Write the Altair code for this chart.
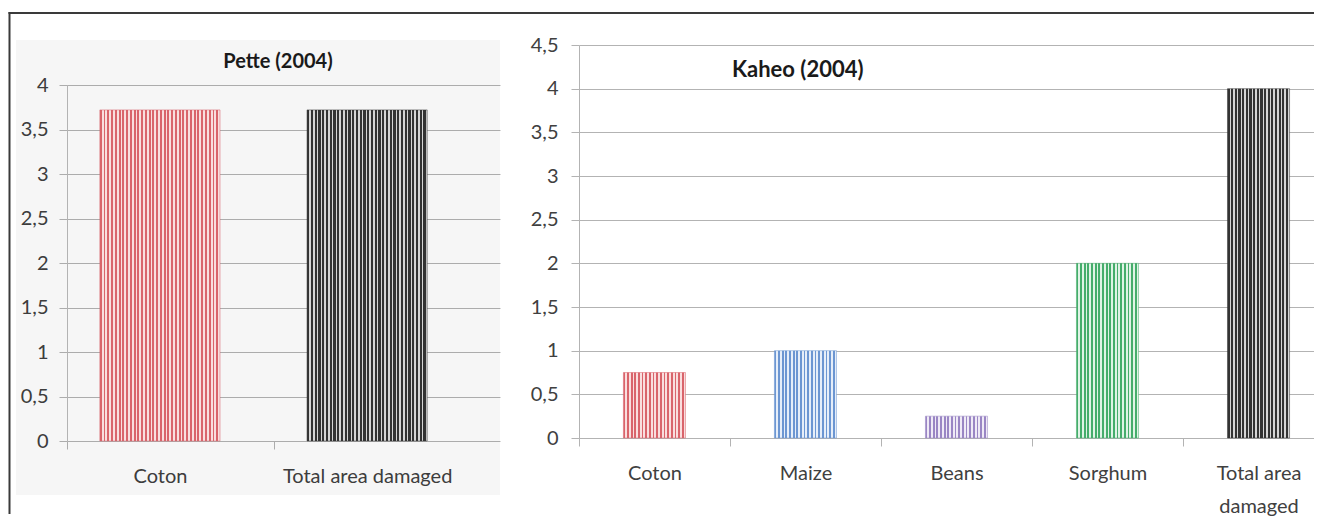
import altair as alt
import pandas as pd

# ---------------- data ----------------
pette_categories = ["Coton", "Total area damaged"]
pette_values = [3.72, 3.72]
pette_ticks = [0, 0.5, 1, 1.5, 2, 2.5, 3, 3.5, 4]

kaheo_categories = ["Coton", "Maize", "Beans", "Sorghum", "Total area damaged"]
kaheo_values = [0.75, 1.0, 0.25, 2.0, 4.0]
kaheo_ticks = [0, 0.5, 1, 1.5, 2, 2.5, 3, 3.5, 4, 4.5]

# ---------------- style ----------------
FONT = "Lato"
GRID = "#b3b3b3"
LABEL = "#404040"
BORDER = "#3a3a3a"
bar_colors = {
    "Coton": ("#d9646b", "#f9dede"),
    "Maize": ("#6c96d2", "#e6eef9"),
    "Beans": ("#9a86c4", "#efeaf6"),
    "Sorghum": ("#45ad6b", "#e0f3e6"),
    "Total area damaged": ("#333333", "#d6d6d6"),
}


def stripes(dark, light, n, frac=0.5):
    stops = []
    for i in range(n):
        a = i / n
        b = (i + frac) / n
        c = (i + 1) / n
        stops += [
            alt.GradientStop(offset=a, color=dark),
            alt.GradientStop(offset=b, color=dark),
            alt.GradientStop(offset=b, color=light),
            alt.GradientStop(offset=c, color=light),
        ]
    return alt.LinearGradient(gradient="linear", stops=stops, x1=0, x2=1, y1=0, y2=0)


one = pd.DataFrame({"k": [0]})


def frame_rect(x0, x1, y0, y1):
    return alt.Chart(one).mark_rect(fill=BORDER).encode(
        x=alt.value(x0), x2=alt.value(x1), y=alt.value(y0), y2=alt.value(y1))


def panel(cats, vals, ticks, y_top, width, height, pad_inner, pad_outer, band_align,
          tick_off, y_label_pad, n_stripes, title, title_x, title_y, title_align,
          title_size, label_expr, frames, bg=None, own_domain=False):
    df = pd.DataFrame({"category": cats, "value": vals})
    x = alt.X(
        "category:N", sort=cats,
        scale=alt.Scale(paddingInner=pad_inner, paddingOuter=pad_outer, align=band_align),
        axis=alt.Axis(title=None, domain=False, grid=False, ticks=True, tickSize=8,
                      tickColor=GRID, tickOffset=tick_off, labelOffset=-tick_off,
                      labelAngle=0, labelFont=FONT, labelFontSize=20, labelColor=LABEL,
                      labelPadding=17, labelLineHeight=33, labelExpr=label_expr),
    )
    y = alt.Y(
        "value:Q",
        scale=alt.Scale(domain=[0, y_top], nice=False),
        axis=alt.Axis(title=None, values=ticks,
                      labelExpr="replace(format(datum.value, '~g'), '.', ',')",
                      grid=True, gridColor=GRID, domain=not own_domain, domainColor=GRID,
                      ticks=True, tickColor=GRID, tickSize=8, labelPadding=y_label_pad,
                      labelFont=FONT, labelFontSize=20, labelColor=LABEL),
    )
    layers = []
    if bg is not None:
        layers.append(
            alt.Chart(one).mark_rect(fill="#000000", opacity=0.035).encode(
                x=alt.value(bg[0]), x2=alt.value(bg[1]), y=alt.value(bg[2]), y2=alt.value(bg[3]))
        )
    for c in cats:
        dark, light = bar_colors[c]
        frac = 0.6 if c == "Total area damaged" else 0.5
        layers.append(
            alt.Chart(df).transform_filter(alt.datum.category == c).mark_bar(
                fill=stripes(dark, light, n_stripes, frac), stroke=dark,
                strokeWidth=1, strokeOpacity=0.5,
            ).encode(x=x, y=y)
        )
    if own_domain:
        layers.append(
            alt.Chart(one).mark_rule(color=GRID, strokeWidth=1).encode(
                x=alt.value(0.5), y=alt.datum(ticks[0]), y2=alt.datum(ticks[-1]))
        )
    layers.append(
        alt.Chart(one).mark_text(font=FONT, fontSize=title_size, fontWeight="bold",
                                 color="#1a1a1a", align=title_align, baseline="alphabetic").encode(
            x=alt.value(title_x), y=alt.value(title_y), text=alt.value(title))
    )
    for f in frames:
        layers.append(frame_rect(*f))
    return alt.layer(*layers).properties(width=width, height=height)


# left panel: plot drawn from the same top as the right one, 0-4 occupies the lower 356 px
left = panel(
    pette_categories, pette_values, pette_ticks, y_top=4 * 396 / 356,
    width=433, height=396, pad_inner=0.42, pad_outer=0.255, band_align=0.311,
    tick_off=-93, y_label_pad=11, n_stripes=32,
    title="Pette (2004)", title_x=211, title_y=23, title_align="center", title_size=20,
    label_expr="datum.label",
    frames=[(-58.5, 433, -33, -31), (-58.5, -56.5, -33, 469)],
    bg=(-51, 433, -5, 450), own_domain=True,
)

right = panel(
    kaheo_categories, kaheo_values, kaheo_ticks, y_top=4.5,
    width=735, height=393, pad_inner=0.589, pad_outer=0.228, band_align=0.645,
    tick_off=-75.5, y_label_pad=13, n_stripes=17,
    title="Kaheo (2004)", title_x=153, title_y=32, title_align="left", title_size=22,
    label_expr="datum.label == 'Total area damaged' ? ['Total area', 'damaged'] : datum.label",
    frames=[(-79, 735, -33, -31)],
)

chart = alt.hconcat(left, right, spacing=0).properties(
    padding={"left": 0, "top": 4, "right": 0, "bottom": 0},
    background="white",
).configure_view(stroke=None)

chart.save("out.html", embed_options={"renderer": "svg", "actions": False})
